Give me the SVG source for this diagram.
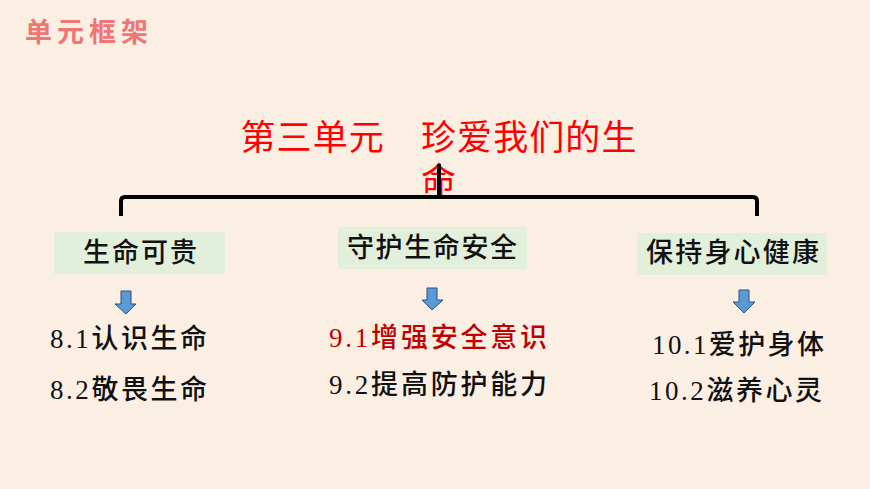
<svg xmlns="http://www.w3.org/2000/svg" width="870" height="489" viewBox="0 0 870 489">
<defs>
<style>
.bg{fill:#FBEFE4}
.hdr{font-family:"Noto Sans CJK SC",sans-serif;font-weight:700;font-size:27px;fill:#F07575;letter-spacing:5px}
.ttl{font-family:"Noto Sans CJK SC",sans-serif;font-size:35px;fill:#FF0000;text-anchor:middle;letter-spacing:1.1px}
.box{fill:#E2EFDA}
.bt{font-family:"Noto Sans CJK SC",sans-serif;font-size:27px;fill:#111;font-weight:500}
.it{font-family:"Liberation Serif","Noto Sans CJK SC",serif;font-size:27px;fill:#111;font-weight:500}
.red{fill:#C00000}
.arr{fill:#5B9BD5;stroke:#2F4F7F;stroke-width:1}
.con{fill:none;stroke:#000;stroke-width:4;stroke-linejoin:round}
</style>
</defs>
<rect class="bg" x="0" y="0" width="870" height="489"/>
<text class="hdr" x="25" y="42">单元框架</text>
<g id="title">
<text class="ttl"><tspan x="439" y="150">第三单元　珍爱我们的生</tspan><tspan x="439" y="193">命</tspan></text>
</g>
<g id="connectors">
<path class="con" d="M121,216 V201 Q121,197 125,197 H753 Q757,197 757,201 V216"/>
<line class="con" x1="439" y1="164" x2="439" y2="197"/>
</g>
<g id="n1">
<rect class="box" x="54" y="232" width="171" height="42"/>
<text class="bt" x="83" y="262" textLength="114">生命可贵</text>
</g>
<g id="n2">
<rect class="box" x="338" y="227" width="189" height="42"/>
<text class="bt" x="347" y="257" textLength="170">守护生命安全</text>
</g>
<g id="n3">
<rect class="box" x="637" y="233" width="190" height="42"/>
<text class="bt" x="646" y="262" textLength="173">保持身心健康</text>
</g>
<g id="arrows">
<path class="arr" d="M121,291 H131 V304 H136 L126,314 L115,304 H121 Z"/>
<path class="arr" d="M427,288 H437 V300 H443 L432,310 L422,300 H427 Z"/>
<path class="arr" d="M739,290 H749 V302 H755 L744,313 L733,302 H739 Z"/>
</g>
<g id="items1">
<text class="it" x="50" y="348" textLength="157">8.1认识生命</text>
<text class="it" x="50" y="399" textLength="157">8.2敬畏生命</text>
</g>
<g id="items2">
<text class="it red" x="329" y="347" textLength="218">9.1增强安全意识</text>
<text class="it" x="329" y="394" textLength="218">9.2提高防护能力</text>
</g>
<g id="items3">
<text class="it" x="652" y="354" textLength="172">10.1爱护身体</text>
<text class="it" x="649" y="400" textLength="173">10.2滋养心灵</text>
</g>
</svg>
